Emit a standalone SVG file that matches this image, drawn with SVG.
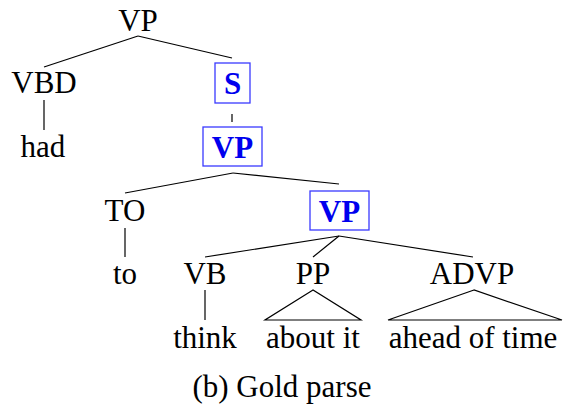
<svg xmlns="http://www.w3.org/2000/svg" width="563" height="417" viewBox="0 0 563 417">
  <style>
    text { font-family: Tinos, "Liberation Serif", "Noto Serif", "DejaVu Serif", "Times New Roman", Times, serif; font-size: 31px; fill: #000; text-anchor: middle; }
    text.hl { font-weight: bold; fill: #0000ee; }
    rect.hl { fill: none; stroke: #3a3aff; stroke-width: 1.3; }
    .edge { stroke: #000; stroke-width: 1.2; fill: none; }
  </style>
  <rect width="563" height="417" fill="#fff"/>

  <g id="connectors">
    <line class="edge" x1="138" y1="36" x2="44" y2="67"/>
    <line class="edge" x1="138" y1="36" x2="232" y2="58"/>
    <line class="edge" x1="44" y1="100" x2="44" y2="130"/>
    <line class="edge" x1="232" y1="114" x2="232" y2="122"/>
    <line class="edge" x1="233" y1="173" x2="125" y2="193"/>
    <line class="edge" x1="233" y1="173" x2="339" y2="184"/>
    <line class="edge" x1="125" y1="228" x2="125" y2="257"/>
    <line class="edge" x1="339" y1="236" x2="205" y2="257"/>
    <line class="edge" x1="339" y1="236" x2="313" y2="257"/>
    <line class="edge" x1="339" y1="236" x2="473" y2="257"/>
    <line class="edge" x1="205" y1="290" x2="205" y2="320"/>
    <polygon class="edge" points="313,290 265,320 361,320"/>
    <polygon class="edge" points="474,290 388,320 562,320"/>
  </g>

  <g id="n-vp-root"><text x="138" y="31">VP</text></g>
  <g id="n-vbd"><text x="44" y="93">VBD</text></g>
  <g id="n-had"><text x="43" y="157">had</text></g>
  <g id="n-s">
    <rect class="hl" x="215" y="63" width="35" height="40"/>
    <text class="hl" x="232.5" y="94">S</text>
  </g>
  <g id="n-vp-mid">
    <rect class="hl" x="203" y="127" width="59" height="39"/>
    <text class="hl" x="232.5" y="158">VP</text>
  </g>
  <g id="n-to"><text x="125" y="221">TO</text></g>
  <g id="n-to-word"><text x="125" y="284">to</text></g>
  <g id="n-vp-low">
    <rect class="hl" x="310" y="191" width="59" height="39"/>
    <text class="hl" x="339.5" y="222">VP</text>
  </g>
  <g id="n-vb"><text x="205" y="284">VB</text></g>
  <g id="n-pp"><text x="313" y="284">PP</text></g>
  <g id="n-advp"><text x="472" y="284">ADVP</text></g>
  <g id="n-think"><text x="205" y="348">think</text></g>
  <g id="n-about"><text x="313" y="348">about it</text></g>
  <g id="n-ahead"><text x="473" y="348">ahead of time</text></g>

  <g id="caption"><text x="282" y="397">(b) Gold parse</text></g>
</svg>
